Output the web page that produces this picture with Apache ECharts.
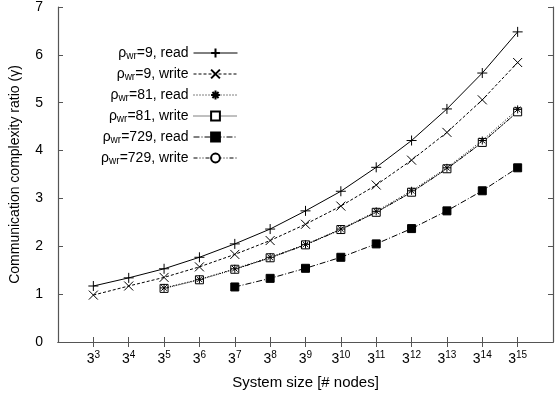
<!DOCTYPE html>
<html>
<head>
<meta charset="utf-8">
<script src="https://cdn.jsdelivr.net/npm/echarts@6/dist/echarts.min.js"></script>
<style>
  html, body { margin: 0; padding: 0; background: #fff; }
  #chart { width: 555px; height: 398px; }
</style>
</head>
<body>
<div id="chart"></div>
<script>
// x values are exponents of 3 (system size = 3^n)
const exponents = [3, 4, 5, 6, 7, 8, 9, 10, 11, 12, 13, 14, 15];

const rho9Read = [1.17, 1.34, 1.53, 1.77, 2.05, 2.36, 2.74, 3.15, 3.65, 4.21, 4.87, 5.62, 6.48];
const rho9Write = [0.98, 1.17, 1.35, 1.57, 1.83, 2.12, 2.46, 2.84, 3.28, 3.80, 4.38, 5.06, 5.84];
const rho81Read = [null, null, 1.13, 1.31, 1.53, 1.77, 2.04, 2.36, 2.73, 3.16, 3.64, 4.21, 4.86];
const rho81Write = [null, null, 1.12, 1.30, 1.52, 1.76, 2.03, 2.35, 2.71, 3.13, 3.62, 4.17, 4.81];
const rho729Read = [null, null, null, null, 1.15, 1.33, 1.54, 1.77, 2.05, 2.37, 2.74, 3.16, 3.64];
const rho729Write = [null, null, null, null, 1.52, 1.76, 2.03, 2.35, 2.71, 3.13, 3.62, 4.17, 4.81];

const FONT = "Liberation Sans";

function pairs(vals) {
  return exponents.map((e, i) => [e, vals[i]]).filter((p) => p[1] !== null);
}

// marker shapes, stroked like gnuplot points
const plusPath = "path://M0,5L10,5M5,0L5,10";
const crossPath = "path://M0,0L10,10M10,0L0,10";
const starPath = "path://M0,5L10,5M5,0L5,10M1.5,1.5L8.5,8.5M8.5,1.5L1.5,8.5";
const boxPath = "path://M0,0L10,0L10,10L0,10Z";

const seriesDefs = [
  { name: "r9r", label: "9, read", data: rho9Read, dash: "solid", symbol: plusPath, size: 10, fill: "none", z: 6 },
  { name: "r9w", label: "9, write", data: rho9Write, dash: [3, 2], symbol: crossPath, size: 9, fill: "none", z: 5 },
  { name: "r81r", label: "81, read", data: rho81Read, dash: [1, 2], symbol: starPath, size: 8, fill: "none", z: 4 },
  { name: "r81w", label: "81, write", data: rho81Write, dash: [1, 1], symbol: boxPath, size: 8, fill: "#fff", z: 3 },
  { name: "r729r", label: "729, read", data: rho729Read, dash: [6, 2, 1, 2], symbol: "rect", size: 8, fill: "#000", z: 4 },
  { name: "r729w", label: "729, write", data: rho729Write, dash: [4, 2, 1, 2, 1, 2], symbol: "circle", size: 7, fill: "#fff", z: 2 },
];
const labelOf = {};
seriesDefs.forEach((d) => { labelOf[d.name] = d.label; });

const chart = echarts.init(document.getElementById("chart"));

const frame = { show: true, lineStyle: { color: "#555", width: 1.2 } };

const option = {
  animation: false,
  backgroundColor: "#fff",
  textStyle: { fontFamily: FONT },
  grid: { left: 58, right: 2, top: 5, bottom: 56 },
  legend: {
    orient: "vertical",
    right: 312,
    top: 40,
    align: "right",
    itemWidth: 44,
    itemHeight: 11,
    itemGap: 5,
    data: seriesDefs.map((d) => d.name),
    lineStyle: { width: 1 },
    formatter: (name) => "{r|ρ}{s|wr}{r|=" + labelOf[name] + "}",
    textStyle: {
      color: "#000",
      fontFamily: FONT,
      rich: {
        r: { fontSize: 14, fontFamily: FONT, color: "#000", lineHeight: 15 },
        s: { fontSize: 10, fontFamily: FONT, color: "#000", padding: [6, 0, 0, 0], lineHeight: 15 },
      },
    },
  },
  xAxis: [
    {
      type: "value",
      min: 2,
      max: 16,
      interval: 1,
      name: "System size [# nodes]",
      nameLocation: "middle",
      nameGap: 33,
      nameTextStyle: { fontSize: 15, color: "#000", fontFamily: FONT },
      axisLine: frame,
      splitLine: { show: false },
      axisTick: { inside: true, length: 5, lineStyle: { color: "#555" }, customValues: exponents },
      axisLabel: {
        customValues: exponents,
        margin: 9,
        formatter: (v) => "{b|3}{p|" + v + "}",
        rich: {
          b: { fontSize: 14, fontFamily: FONT, color: "#000", lineHeight: 16 },
          p: { fontSize: 10, fontFamily: FONT, color: "#000", padding: [0, 0, 7, 0], lineHeight: 16 },
        },
      },
    },
    {
      type: "value",
      position: "top",
      min: 2,
      max: 16,
      interval: 1,
      axisLine: frame,
      splitLine: { show: false },
      axisTick: { inside: true, length: 5, lineStyle: { color: "#555" }, customValues: exponents },
      axisLabel: { show: false },
    },
  ],
  yAxis: [
    {
      type: "value",
      min: 0,
      max: 7,
      interval: 1,
      name: "Communication complexity ratio (γ)",
      nameLocation: "middle",
      nameGap: 36,
      nameTextStyle: { fontSize: 14, color: "#000", fontFamily: FONT },
      axisLine: frame,
      splitLine: { show: false },
      axisTick: { inside: true, length: 5, lineStyle: { color: "#555" } },
      axisLabel: { fontSize: 14, color: "#000", fontFamily: FONT, margin: 15 },
    },
    {
      type: "value",
      position: "right",
      min: 0,
      max: 7,
      interval: 1,
      axisLine: frame,
      splitLine: { show: false },
      axisTick: { inside: true, length: 5, lineStyle: { color: "#555" } },
      axisLabel: { show: false },
    },
  ],
  series: seriesDefs.map((d) => ({
    name: d.name,
    type: "line",
    z: d.z,
    data: pairs(d.data),
    symbol: d.symbol,
    symbolSize: d.size,
    showAllSymbol: true,
    lineStyle: { color: "#000", width: 1, type: d.dash },
    itemStyle: { color: d.fill, borderColor: "#000", borderWidth: 1 },
    emphasis: { disabled: true },
  })),
};

chart.setOption(option);
</script>
</body>
</html>
